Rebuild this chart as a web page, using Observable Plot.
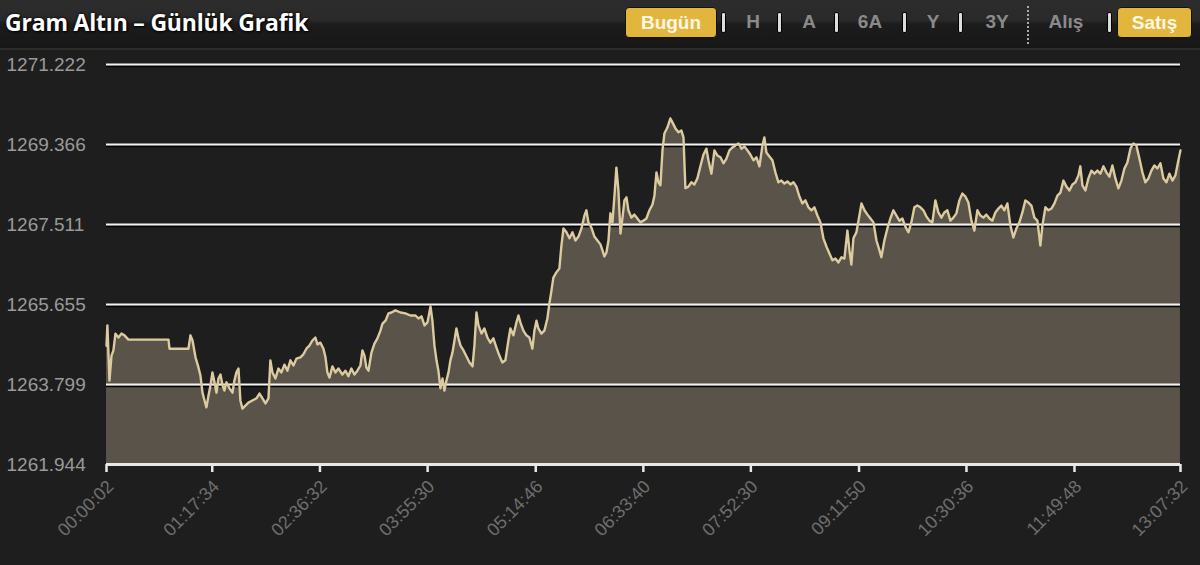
<!DOCTYPE html>
<html><head><meta charset="utf-8">
<script src="https://cdn.jsdelivr.net/npm/d3@7"></script>
<script src="https://cdn.jsdelivr.net/npm/@observablehq/plot@0.6"></script>
<style>
html,body{margin:0;padding:0;background:#1e1e1e;width:1200px;height:565px;overflow:hidden;}
#header{position:absolute;left:0;top:0;width:1200px;height:48px;background:linear-gradient(#2c2c2c 0%,#2a2a2a 42%,#1c1c1c 50%,#171717 100%);border-bottom:2px solid #2f2c27;}
#title{position:absolute;left:5px;top:6px;font:700 23px "Open Sans",sans-serif;letter-spacing:-0.2px;color:#fff;text-shadow:0 0 3px #000,1px 1px 2px #000;white-space:nowrap;}
.btn{position:absolute;top:7px;height:29px;border-radius:4px;background:#e2b53c;border:1px solid #111;color:#fff8e6;font:700 19px "Liberation Sans",Arial,sans-serif;line-height:29px;text-align:center;}
.lbl{position:absolute;top:7px;color:#8a8a8a;font:700 19px "Liberation Sans",Arial,sans-serif;line-height:30px;transform:translateX(-50%);white-space:nowrap;}
.sep{position:absolute;top:12px;width:3px;height:19px;background:#ddd;border:1px solid #000;border-radius:2px;}
.dot{position:absolute;top:6px;height:38px;border-left:2px dotted #aaa;}
#chart{position:absolute;top:50px;left:0;}
</style></head>
<body>
<div id="header">
  <div id="title">Gram Altın – Günlük Grafik</div>
  <div class="btn" style="left:625px;width:90px;">Bugün</div>
  <div class="sep" style="left:721px;"></div>
  <div class="lbl" style="left:753px;">H</div>
  <div class="sep" style="left:777px;"></div>
  <div class="lbl" style="left:809px;">A</div>
  <div class="sep" style="left:834px;"></div>
  <div class="lbl" style="left:870px;">6A</div>
  <div class="sep" style="left:902px;"></div>
  <div class="lbl" style="left:933px;">Y</div>
  <div class="sep" style="left:958px;"></div>
  <div class="lbl" style="left:997px;">3Y</div>
  <div class="dot" style="left:1027px;"></div>
  <div class="lbl" style="left:1066px;">Alış</div>
  <div class="sep" style="left:1107px;"></div>
  <div class="btn" style="left:1117px;width:73px;">Satış</div>
</div>
<div id="chart"></div>
<script>
// Time of each reading, minutes since 00:00
const minutes = [0.03,0.7,2.2,3.7,5.1,6.6,8.8,11.0,13.2,16.1,
24.9,39.6,45.5,46.2,60.1,61.6,63.1,65.3,67.5,68.9,
70.4,71.9,73.3,74.8,76.3,77.7,79.2,80.7,82.1,83.6,
85.1,86.5,88.0,90.2,92.4,93.8,95.3,96.8,98.2,99.7,
101.9,104.1,107.0,110.0,112.2,114.4,116.6,118.8,120.2,121.7,
123.9,126.1,128.3,130.5,132.7,134.9,137.1,139.3,142.2,144.4,
146.6,148.8,151.0,153.2,154.7,156.9,159.1,160.6,162.0,163.5,
165.7,167.9,170.1,173.0,175.2,177.4,179.6,181.8,184.0,186.2,
187.7,189.2,190.6,192.1,194.3,196.5,198.7,200.9,202.4,204.6,
206.8,209.0,211.9,215.6,219.2,222.9,226.6,228.8,231.0,233.2,
235.4,237.6,239.0,240.5,242.0,243.4,244.9,246.4,247.8,249.3,
250.8,252.2,253.7,255.2,256.6,258.1,259.6,261.8,264.0,266.2,
268.4,269.8,271.3,272.8,275.0,277.1,279.3,281.5,283.7,285.9,
288.1,290.3,292.5,294.7,296.2,298.4,300.6,302.1,303.5,305.7,
307.9,310.1,312.3,313.8,315.3,316.7,318.9,321.1,323.3,324.8,
326.3,327.7,329.9,332.1,333.6,335.1,337.3,339.5,341.7,343.9,
346.1,348.3,350.5,351.9,353.4,355.6,357.8,360.0,362.2,363.7,
365.1,366.6,368.1,369.5,371.0,372.5,373.9,375.4,376.9,378.3,
379.8,381.3,382.7,384.9,387.1,389.3,391.5,393.7,395.9,398.1,
400.3,401.8,403.3,404.7,406.2,407.7,409.1,411.3,413.5,415.0,
417.2,419.4,421.6,423.1,424.5,426.7,428.9,431.1,433.3,435.5,
437.7,439.9,441.4,443.6,445.8,448.0,450.2,452.4,454.6,456.8,
459.0,461.2,463.4,465.6,467.8,470.0,472.2,474.4,476.6,478.8,
481.0,482.4,483.9,486.1,488.3,490.5,492.7,494.9,497.1,499.3,
501.5,503.7,505.9,508.1,510.3,512.5,514.7,516.9,519.1,521.3,
523.5,525.7,527.9,530.1,532.3,534.5,536.7,538.9,541.1,543.3,
544.8,546.2,547.7,549.9,552.1,553.6,555.8,558.0,560.2,562.4,
564.6,566.8,568.2,570.4,572.6,574.8,577.0,579.2,581.4,583.6,
585.8,588.0,590.2,592.4,594.6,596.8,599.0,601.2,603.4,605.6,
607.8,610.0,612.2,614.4,616.6,618.8,621.0,623.2,625.4,627.6,
629.8,632.0,634.2,636.4,638.6,640.8,643.0,645.2,647.4,649.6,
651.8,654.0,656.2,658.4,660.6,662.8,665.0,667.2,669.4,671.6,
673.8,676.0,678.2,680.4,682.6,684.8,686.3,688.5,690.7,692.9,
695.1,697.3,699.5,701.7,703.9,706.1,708.3,710.5,712.7,714.1,
715.6,717.8,720.0,722.2,724.4,726.6,728.8,731.0,733.2,735.4,
737.6,739.8,742.0,744.2,746.4,748.6,750.8,753.0,755.2,757.4,
759.6,761.8,764.0,766.2,768.4,770.6,772.8,775.0,777.2,779.4,
781.6,783.8,786.0,787.5];

// Gram gold sell price (TRY)
const prices = [1264.70,1265.17,1263.89,1264.47,1264.59,1264.98,1264.89,1264.98,1264.94,1264.84,
1264.84,1264.84,1264.84,1264.63,1264.63,1264.94,1264.82,1264.43,1264.19,1264.01,
1263.61,1263.43,1263.27,1263.54,1263.78,1264.08,1263.85,1263.61,1263.94,1264.03,
1263.78,1263.66,1263.85,1263.71,1263.61,1263.89,1264.08,1264.17,1263.43,1263.24,
1263.31,1263.38,1263.43,1263.48,1263.59,1263.48,1263.36,1263.48,1264.36,1264.08,
1263.94,1264.17,1264.08,1264.26,1264.12,1264.36,1264.24,1264.40,1264.43,1264.50,
1264.63,1264.70,1264.82,1264.89,1264.73,1264.77,1264.63,1264.43,1264.08,1263.96,
1264.22,1264.08,1264.17,1264.03,1264.12,1263.99,1264.17,1264.03,1264.12,1264.24,
1264.59,1264.47,1264.19,1264.12,1264.54,1264.75,1264.87,1265.05,1265.21,1265.28,
1265.45,1265.47,1265.52,1265.47,1265.45,1265.40,1265.40,1265.33,1265.38,1265.17,
1265.24,1265.61,1265.28,1264.70,1264.36,1264.12,1263.71,1263.94,1263.66,1263.89,
1264.08,1264.36,1264.54,1264.82,1265.10,1264.87,1264.70,1264.59,1264.45,1264.31,
1264.22,1264.70,1265.47,1265.17,1264.98,1265.10,1264.89,1264.77,1264.87,1264.66,
1264.47,1264.31,1264.36,1264.82,1265.10,1264.94,1265.24,1265.40,1265.24,1265.05,
1264.94,1264.89,1264.63,1265.05,1265.28,1265.10,1264.98,1265.05,1265.33,1265.68,
1265.98,1266.28,1266.40,1266.49,1267.02,1267.42,1267.33,1267.19,1267.33,1267.14,
1267.23,1267.42,1267.72,1267.84,1267.56,1267.44,1267.23,1267.14,1267.05,1266.91,
1266.77,1266.86,1267.14,1267.77,1267.56,1268.18,1268.83,1268.30,1267.30,1267.65,
1268.07,1268.14,1267.84,1267.67,1267.74,1267.65,1267.56,1267.60,1267.65,1267.84,
1267.97,1268.18,1268.72,1268.49,1268.42,1269.23,1269.62,1269.76,1269.97,1269.88,
1269.74,1269.65,1269.69,1269.53,1268.35,1268.39,1268.49,1268.44,1268.58,1268.86,
1269.13,1269.27,1269.00,1268.69,1269.23,1269.11,1269.07,1268.93,1269.04,1269.23,
1269.30,1269.34,1269.39,1269.27,1269.32,1269.23,1269.13,1269.00,1269.07,1268.86,
1269.34,1269.53,1269.18,1269.09,1269.00,1268.72,1268.49,1268.53,1268.46,1268.51,
1268.44,1268.49,1268.39,1268.16,1268.00,1268.07,1267.91,1267.84,1267.91,1267.72,
1267.56,1267.19,1267.00,1266.84,1266.68,1266.72,1266.63,1266.75,1266.72,1267.37,
1266.91,1266.58,1267.19,1267.33,1267.72,1268.00,1267.84,1267.74,1267.65,1267.56,
1267.14,1266.91,1266.75,1267.14,1267.42,1267.65,1267.84,1267.72,1267.60,1267.65,
1267.46,1267.33,1267.56,1267.91,1267.95,1267.91,1267.84,1267.70,1267.60,1267.56,
1268.07,1267.79,1267.67,1267.79,1267.84,1267.60,1267.67,1267.77,1268.07,1268.23,
1268.16,1268.02,1267.60,1267.37,1267.84,1267.72,1267.67,1267.74,1267.65,1267.60,
1267.79,1267.88,1267.95,1267.84,1268.00,1267.49,1267.21,1267.42,1267.56,1267.79,
1268.07,1268.02,1267.95,1267.67,1267.60,1267.02,1267.49,1267.91,1267.84,1267.88,
1268.00,1268.18,1268.25,1268.53,1268.39,1268.30,1268.44,1268.49,1268.65,1268.86,
1268.42,1268.30,1268.58,1268.76,1268.69,1268.76,1268.69,1268.86,1268.72,1268.62,
1268.88,1268.58,1268.35,1268.53,1268.81,1268.95,1269.27,1269.39,1269.34,1269.04,
1268.72,1268.49,1268.58,1268.76,1268.88,1268.81,1268.93,1268.58,1268.49,1268.69,
1268.53,1268.65,1269.00,1269.23];

const yTicks = [1261.944, 1263.799, 1265.655, 1267.511, 1269.366, 1271.222];
const xTickLabels = ["00:00:02","01:17:34","02:36:32","03:55:30","05:14:46","06:33:40","07:52:30","09:11:50","10:30:36","11:49:48","13:07:32"];

const toMin = s => { const [h, m, sec] = s.split(":").map(Number); return h * 60 + m + sec / 60; };
const xTicks = xTickLabels.map(toMin);
const labelOf = new Map(xTicks.map((v, i) => [v, xTickLabels[i]]));
const n = Math.min(minutes.length, prices.length);
const data = d3.range(n).map(i => ({t: minutes[i], p: prices[i]}));
const yMin = yTicks[0], yMax = yTicks[yTicks.length - 1];
const fmt = d3.format(".3f");

const chart = Plot.plot({
  width: 1200,
  height: 515,
  marginTop: 14,
  marginBottom: 101,
  marginLeft: 106,
  marginRight: 20,
  style: {background: "#1e1e1e", fontFamily: "'Liberation Sans', Arial, sans-serif", overflow: "visible"},
  x: {type: "linear", domain: [xTicks[0], xTicks[xTicks.length - 1]]},
  y: {domain: [yMin, yMax], axis: null},
  marks: [
    Plot.areaY(data, {x: "t", y1: () => yMin, y2: "p", fill: "#59534a"}),
    Plot.ruleY(yTicks.slice(1), {stroke: "#000", strokeWidth: 1.5, dy: 2}),
    Plot.ruleY(yTicks.slice(1), {stroke: "#f2f2f2", strokeWidth: 2}),
    Plot.lineY(data, {x: "t", y: "p", stroke: "#dccb9f", strokeWidth: 2.4}),
    Plot.ruleY([yMin], {stroke: "#e8e8e8", strokeWidth: 3}),
    Plot.axisX({ticks: xTicks, tickFormat: () => "", tickSize: 8,
      stroke: "#e8e8e8", strokeWidth: 2.5, label: null}),
    Plot.axisX({ticks: xTicks, tickFormat: d => labelOf.get(d), tickRotate: -45, tickSize: 0,
      fill: "#6e6e6e", fontSize: 18, tickPadding: 19, dx: 4, label: null}),
    Plot.text(yTicks, {y: d => d, text: d => fmt(d), frameAnchor: "left", dx: -100, textAnchor: "start",
      fill: "#9a9a9a", fontSize: 19})
  ]
});
document.getElementById("chart").appendChild(chart);
</script>
</body></html>
